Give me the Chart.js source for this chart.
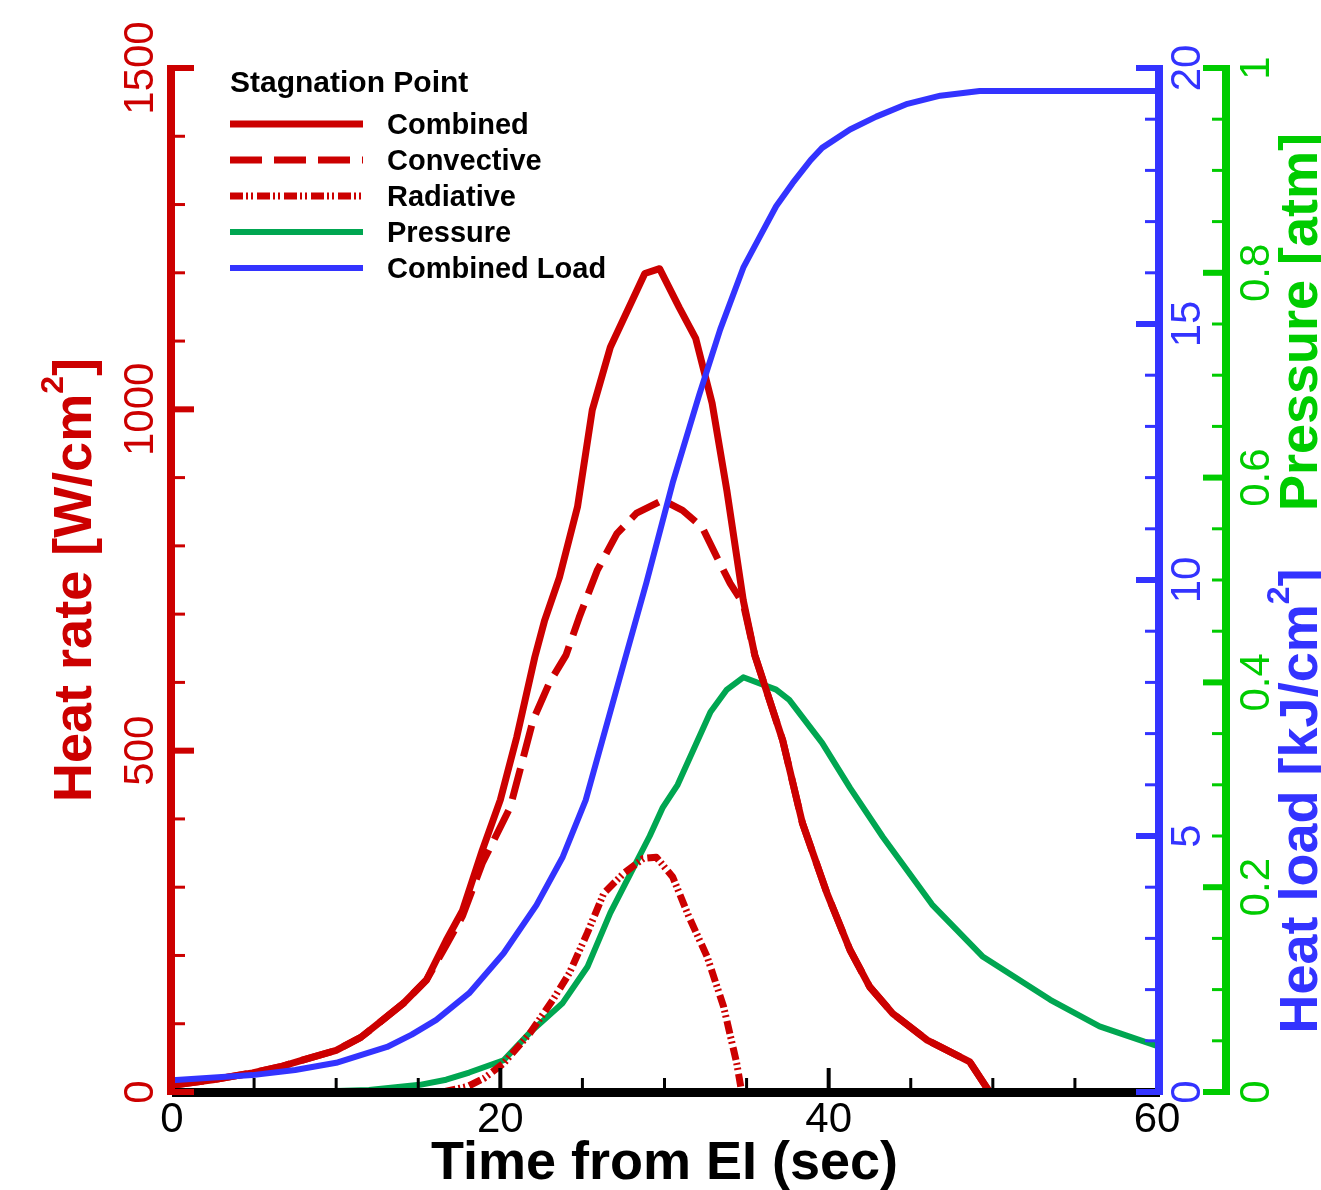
<!DOCTYPE html>
<html>
<head>
<meta charset="utf-8">
<script src="https://cdn.jsdelivr.net/npm/chart.js@4.4.1/dist/chart.umd.min.js"></script>
<style>
  html, body { margin: 0; padding: 0; background: #fff; }
  #wrap { width: 1321px; height: 1190px; }
</style>
</head>
<body>
<div id="wrap"><canvas id="chart" width="1321" height="1190"></canvas></div>
<script>
// values
const combinedTime = [0, 2.5, 4.9, 6.6, 8, 10, 11.5, 12.7, 14.1, 15.5, 16.7, 17.7, 18.9, 20, 21, 22.1, 22.7, 23.6, 24.7, 25.6, 26.7, 28.8, 29.7, 30.9, 31.9, 32.9, 33.8, 34.8, 35.5, 37.2, 38.4, 39.9, 41.3, 42.5, 43.9, 46, 48.6, 49.8];
const combinedRate = [10, 18, 28, 37, 47, 61, 80, 103, 130, 164, 222, 266, 354, 428, 520, 637, 691, 754, 857, 999, 1091, 1199, 1206, 1149, 1104, 1009, 881, 720, 640, 515, 394, 291, 208, 154, 115, 76, 44, 0];

const convectiveTime = [0, 2.5, 4.9, 6.6, 8, 10, 11.5, 12.7, 14.1, 15.5, 16.7, 17.7, 18.9, 20.6, 22, 23, 24, 24.8, 25.9, 27.1, 28.3, 29.9, 31.1, 32.3, 33.2, 34, 34.8, 35.5, 37.2, 38.4, 39.9, 41.3, 42.5, 43.9, 46, 48.6, 49.8];
const convectiveRate = [10, 18, 28, 37, 47, 61, 80, 103, 130, 164, 215, 258, 335, 417, 545, 600, 640, 695, 764, 818, 848, 867, 852, 827, 783, 745, 715, 640, 515, 394, 291, 208, 154, 115, 76, 44, 0];

const radiativeTime = [16.5, 18, 19, 20.2, 21.8, 23.2, 24.2, 25.3, 26.3, 27.5, 28.7, 29.5, 30.5, 31.5, 32.6, 33.6, 34.4, 34.7];
const radiativeRate = [0, 8, 20, 42, 86, 135, 174, 233, 291, 320, 342, 344, 315, 256, 198, 125, 42, 0];

const pressureTime = [0, 10, 12, 15.1, 16.7, 18.1, 20.2, 21.8, 23.8, 25.3, 26.7, 28.3, 29.1, 29.9, 30.8, 32.8, 33.8, 34.8, 36.8, 37.6, 39.6, 41.3, 43.3, 46.3, 49.4, 53.5, 56.5, 60];
const pressureAtm = [0, 0.001, 0.002, 0.007, 0.012, 0.019, 0.031, 0.058, 0.087, 0.122, 0.175, 0.225, 0.25, 0.278, 0.30, 0.371, 0.393, 0.405, 0.393, 0.383, 0.341, 0.297, 0.249, 0.183, 0.132, 0.09, 0.064, 0.045];

const loadTime = [0, 4.9, 7.5, 10, 11.5, 13.1, 14.6, 16.1, 18.1, 20.2, 22.2, 23.8, 25.2, 27.5, 28.9, 30.5, 32.1, 33.4, 34.8, 35.8, 36.8, 37.8, 38.9, 39.6, 41.3, 42.9, 44.8, 46.8, 49.2, 60];
const loadValue = [0.23, 0.33, 0.43, 0.57, 0.72, 0.88, 1.12, 1.41, 1.93, 2.71, 3.65, 4.59, 5.7, 8.35, 9.95, 11.9, 13.6, 14.9, 16.1, 16.7, 17.3, 17.75, 18.2, 18.44, 18.8, 19.05, 19.3, 19.46, 19.55, 19.55];

// tick labels
const timeTicks = [0, 20, 40, 60];
const rateTicks = [0, 500, 1000, 1500];
const loadTicks = [0, 5, 10, 15, 20];
const pressureTicks = [0, 0.2, 0.4, 0.6, 0.8, 1];

const RED = '#cc0000';
const BLUE = '#3333ff';
const GREEN_LINE = '#00a651';
const GREEN_AXIS = '#00cc00';
const FONT = "'Liberation Sans', Arial, Helvetica, sans-serif";

const zip = (xs, ys) => xs.map((x, i) => ({ x: x, y: ys[i] }));

function rotatedLabel(ctx, text, cx, cy, color) {
    ctx.save();
    ctx.translate(cx, cy);
    ctx.rotate(-Math.PI / 2);
    ctx.font = `42px ${FONT}`;
    ctx.fillStyle = color;
    ctx.textAlign = 'center';
    ctx.textBaseline = 'middle';
    ctx.fillText(text, 0, 0);
    ctx.restore();
}

// parts: [text, size, rise]
function rotatedTitle(ctx, parts, baseX, centerY, color) {
    ctx.save();
    ctx.translate(baseX, centerY);
    ctx.rotate(-Math.PI / 2);
    ctx.fillStyle = color;
    ctx.textAlign = 'left';
    ctx.textBaseline = 'alphabetic';
    let total = 0;
    parts.forEach(p => {
        ctx.font = `bold ${p[1]}px ${FONT}`;
        total += ctx.measureText(p[0]).width;
    });
    let x = -total / 2;
    parts.forEach(p => {
        ctx.font = `bold ${p[1]}px ${FONT}`;
        ctx.fillText(p[0], x, -p[2]);
        x += ctx.measureText(p[0]).width;
    });
    ctx.restore();
}

function drawVAxis(ctx, scale, ca, o) {
    ctx.fillStyle = o.color;
    ctx.fillRect(o.x - 4, ca.top - 3, 8, ca.bottom - ca.top + 6);
    ctx.strokeStyle = o.color;
    const n = Math.round((scale.max - scale.min) / o.step);
    for (let i = 0; i <= n; i++) {
        const v = scale.min + i * o.step;
        const y = scale.getPixelForValue(v);
        const major = i % o.majorEvery === 0;
        ctx.lineWidth = major ? 6 : 3;
        ctx.beginPath();
        ctx.moveTo(o.x, y);
        ctx.lineTo(o.x + o.side * (major ? 23 : 14), y);
        ctx.stroke();
    }
    o.labels.forEach(v => rotatedLabel(ctx, String(v), o.labelX, scale.getPixelForValue(v), o.color));
}

const axesPlugin = {
    id: 'tecplotAxes',
    afterDatasetsDraw(chart) {
        const ctx = chart.ctx;
        const ca = chart.chartArea;
        const xs = chart.scales.x;
        ctx.save();
        ctx.lineCap = 'butt';

        // bottom time axis
        ctx.fillStyle = '#000';
        ctx.fillRect(ca.left, ca.bottom - 4, ca.right - ca.left + 3, 9);
        ctx.strokeStyle = '#000';
        for (let t = 5; t < 60; t += 5) {
            const x = xs.getPixelForValue(t);
            ctx.lineWidth = t % 20 === 0 ? 4 : 3;
            ctx.beginPath();
            ctx.moveTo(x, ca.bottom);
            ctx.lineTo(x, ca.bottom - (t % 20 === 0 ? 24 : 14));
            ctx.stroke();
        }
        ctx.font = `42px ${FONT}`;
        ctx.textAlign = 'center';
        ctx.textBaseline = 'middle';
        ctx.fillStyle = '#000';
        timeTicks.forEach(t => ctx.fillText(String(t), xs.getPixelForValue(t), 1120));
        ctx.font = `bold 54px ${FONT}`;
        ctx.textBaseline = 'alphabetic';
        ctx.fillText('Time from EI (sec)', (ca.left + ca.right) / 2, 1179);

        drawVAxis(ctx, chart.scales.y, ca, {
            x: ca.left - 1, color: RED, step: 100, majorEvery: 5, side: 1, labelX: 141, labels: rateTicks
        });
        drawVAxis(ctx, chart.scales.yLoad, ca, {
            x: ca.right + 2, color: BLUE, step: 1, majorEvery: 5, side: -1, labelX: 1188, labels: loadTicks
        });
        drawVAxis(ctx, chart.scales.yP, ca, {
            x: 1226, color: GREEN_AXIS, step: 0.05, majorEvery: 4, side: -1, labelX: 1257, labels: pressureTicks
        });

        rotatedTitle(ctx, [['Heat rate [W/cm', 54, 0], ['2', 32, 28], [']', 54, 0]], 91, 580, RED);
        rotatedTitle(ctx, [['Heat load [kJ/cm', 54, 0], ['2', 32, 28], [']', 54, 0]], 1317, 801, BLUE);
        rotatedTitle(ctx, [['Pressure [atm]', 54, 0]], 1317, 322, GREEN_AXIS);

        // legend
        ctx.textAlign = 'left';
        ctx.textBaseline = 'alphabetic';
        ctx.fillStyle = '#000';
        ctx.font = `bold 30px ${FONT}`;
        ctx.fillText('Stagnation Point', 230, 92);
        ctx.font = `bold 29px ${FONT}`;
        const rows = chart.data.datasets.map(d => d).sort((a, b) => a.legendRow - b.legendRow);
        rows.forEach((d, i) => {
            const y = 124 + i * 36;
            ctx.strokeStyle = d.borderColor;
            ctx.lineWidth = d.borderWidth;
            ctx.setLineDash(d.borderDash || []);
            ctx.beginPath();
            ctx.moveTo(230, y);
            ctx.lineTo(363, y);
            ctx.stroke();
            ctx.setLineDash([]);
            ctx.fillStyle = '#000';
            ctx.fillText(d.label, 387, y + 10);
        });
        ctx.restore();
    }
};

new Chart(document.getElementById('chart'), {
    type: 'line',
    data: {
        datasets: [
            { label: 'Combined Load', legendRow: 4, data: zip(loadTime, loadValue), yAxisID: 'yLoad', borderColor: BLUE, borderWidth: 6, order: 0 },
            { label: 'Combined', legendRow: 0, data: zip(combinedTime, combinedRate), yAxisID: 'y', borderColor: RED, borderWidth: 7, order: 1 },
            { label: 'Convective', legendRow: 1, data: zip(convectiveTime, convectiveRate), yAxisID: 'y', borderColor: RED, borderWidth: 7, borderDash: [32, 12], order: 2 },
            { label: 'Radiative', legendRow: 2, data: zip(radiativeTime, radiativeRate), yAxisID: 'y', borderColor: RED, borderWidth: 7, borderDash: [13, 3, 2, 3, 2, 4], order: 3 },
            { label: 'Pressure', legendRow: 3, data: zip(pressureTime, pressureAtm), yAxisID: 'yP', borderColor: GREEN_LINE, borderWidth: 6, order: 4 }
        ]
    },
    options: {
        responsive: false,
        animation: false,
        events: [],
        layout: { padding: { left: 172, right: 164, top: 68, bottom: 98 } },
        elements: {
            point: { radius: 0 },
            line: { tension: 0, fill: false, borderJoinStyle: 'round', borderCapStyle: 'butt' }
        },
        plugins: { legend: { display: false }, tooltip: { enabled: false } },
        scales: {
            x: { type: 'linear', min: 0, max: 60, display: false },
            y: { type: 'linear', min: 0, max: 1500, display: false },
            yLoad: { type: 'linear', min: 0, max: 20, display: false },
            yP: { type: 'linear', min: 0, max: 1, display: false }
        }
    },
    plugins: [axesPlugin]
});
</script>
</body>
</html>
